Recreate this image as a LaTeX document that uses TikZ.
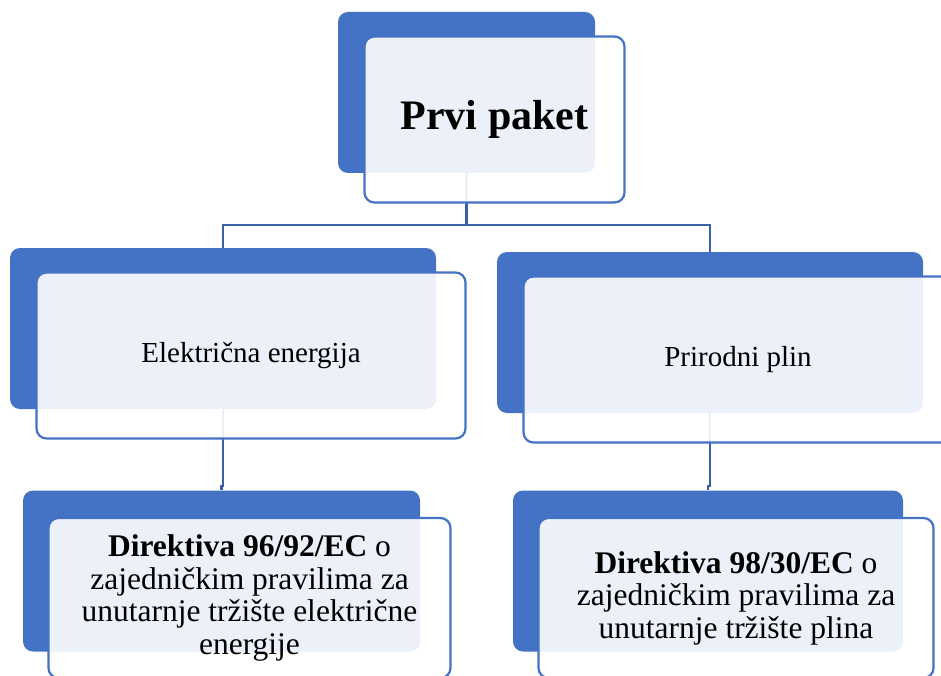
\documentclass[tikz,border=0pt]{standalone}
\usepackage{fontspec}
\setmainfont{Liberation Serif}
\usetikzlibrary{positioning, backgrounds}

\definecolor{accent}{RGB}{68,114,196}
\definecolor{linkblue}{RGB}{59,97,172}

\begin{document}
\begin{tikzpicture}[
  x=1pt,
  y=-1pt,
  back/.style={
    fill=accent,
    rounded corners=10pt,
    minimum height=161pt
  },
  front/.style={
    draw=accent,
    line width=2.2pt,
    fill=white,
    fill opacity=0.9,
    text opacity=1,
    rounded corners=10pt,
    align=center,
    minimum height=166pt,
    shift={(28,27)}
  },
  link/.style={
    draw=linkblue,
    line width=2.2pt
  }
]
\useasboundingbox (0,0) rectangle (941,676);
\clip (0,0) rectangle (941,676);

% Back boxes
\node[back, minimum width=257pt] (paketB) at (466.5,92.5) {};
\node[back, minimum width=426pt] (elecB) at (223,328.5) {};
\node[back, minimum width=426pt] (gasB) at (710,332.5) {};
\node[back, minimum width=397pt] (elecDirB) at (221.5,571) {};
\node[back, minimum width=390pt] (gasDirB) at (708,571) {};

% Front boxes
\node[front, minimum width=260pt, font=\fontsize{42}{48}\selectfont\bfseries] (paket) at (paketB) {\raisebox{-3pt}{Prvi paket}};
\node[front, minimum width=429pt, font=\fontsize{29}{33}\selectfont] (elec) at (elecB) {\raisebox{-3pt}{Električna energija}};
\node[front, minimum width=429pt, font=\fontsize{29}{33}\selectfont] (gas) at (gasB) {\raisebox{-3pt}{Prirodni plin}};
\node[front, minimum width=402pt, minimum height=160pt, font=\fontsize{31.5}{32.5}\selectfont] (elecDir) at (elecDirB)
  {\textbf{Direktiva 96/92/EC} o\\zajedničkim pravilima za\\unutarnje tržište električne\\energije};
\node[front, minimum width=395pt, minimum height=160pt, font=\fontsize{31.5}{32.5}\selectfont] (gasDir) at (gasDirB)
  {\textbf{Direktiva 98/30/EC} o\\zajedničkim pravilima za\\unutarnje tržište plina};

% Connectors
\begin{scope}[on background layer]
\draw[link] (paketB.south) -- ++(0,52) -| (elecB.north);
\draw[link] (paketB.south) -- ++(0,52) -| (gasB.north);
\draw[link] (elecB.south) -- ++(0,77) -| (elecDirB.north);
\draw[link] (gasB.south) -- ++(0,73) -| (gasDirB.north);
\end{scope}

\end{tikzpicture}
\end{document}
